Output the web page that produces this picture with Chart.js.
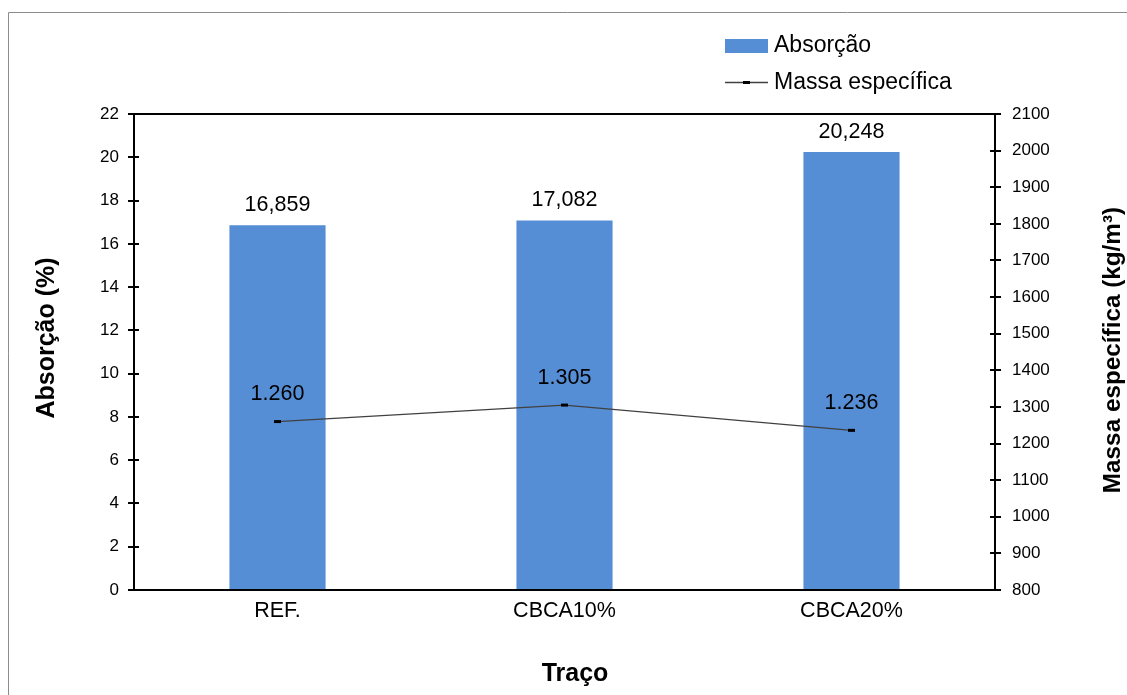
<!DOCTYPE html>
<html>
<head>
<meta charset="utf-8">
<script src="https://cdn.jsdelivr.net/npm/chart.js@4/dist/chart.umd.min.js"></script>
<style>
  html, body { margin: 0; padding: 0; background: #fff; }
  #wrap { width: 1127px; height: 695px; position: relative; }
</style>
</head>
<body>
<div id="wrap"><canvas id="c" width="1127" height="695"></canvas></div>
<script>
// Traço (mix) categories and measured values
const categories = ['REF.', 'CBCA10%', 'CBCA20%'];
const absorcao = [16.859, 17.082, 20.248];          // %
const massaEspecifica = [1260, 1305, 1236];         // kg/m³
const absorcaoAxis = [0, 22, 2];                    // min, max, step
const massaAxis = [800, 2100, 100];                 // min, max, step

const FONT = "'Liberation Sans', Arial, sans-serif";
const BAR_COLOR = '#558ED5';
const LINE_COLOR = '#404040';

// pt-BR number formatting: comma decimals, period thousands
function fmtDecimal(v, d) { return v.toFixed(d).replace('.', ','); }
function fmtThousands(v) { return String(Math.round(v)).replace(/\B(?=(\d{3})+(?!\d))/g, '.'); }

const framePlugin = {
  id: 'frame',
  beforeDraw(chart) {
    const ctx = chart.ctx;
    ctx.save();
    ctx.fillStyle = '#fff';
    ctx.fillRect(0, 0, chart.width, chart.height);
    ctx.strokeStyle = '#8c8c8c';
    ctx.lineWidth = 1;
    ctx.beginPath();
    ctx.moveTo(8.5, chart.height);
    ctx.lineTo(8.5, 12.5);
    ctx.lineTo(chart.width, 12.5);
    ctx.stroke();
    ctx.restore();
  },
  afterDatasetsDraw(chart) {
    const ctx = chart.ctx;
    const a = chart.chartArea;
    ctx.save();
    ctx.strokeStyle = '#000';
    ctx.lineWidth = 2;
    ctx.beginPath();
    ctx.rect(a.left, a.top, a.right - a.left, a.bottom - a.top);
    ctx.stroke();
    // tick marks crossing the value axes
    const ys = chart.scales.y, y1 = chart.scales.y1;
    ctx.beginPath();
    ys.ticks.forEach(t => {
      const p = Math.round(ys.getPixelForValue(t.value));
      ctx.moveTo(a.left - 6, p); ctx.lineTo(a.left + 5, p);
    });
    y1.ticks.forEach(t => {
      const p = Math.round(y1.getPixelForValue(t.value));
      ctx.moveTo(a.right - 5, p); ctx.lineTo(a.right + 6, p);
    });
    ctx.stroke();

    // value labels
    ctx.fillStyle = '#000';
    ctx.textAlign = 'center';
    ctx.textBaseline = 'middle';
    ctx.font = '21.5px ' + FONT;
    chart.data.datasets.forEach((ds, i) => {
      const meta = chart.getDatasetMeta(i);
      meta.data.forEach((el, j) => {
        const v = ds.data[j];
        if (ds.type === 'bar') {
          ctx.fillText(fmtDecimal(v, 3), el.x, el.y - 20);
        } else {
          ctx.fillText(fmtThousands(v), el.x, el.y - 27);
        }
      });
    });

    // axis titles
    ctx.font = 'bold 25px ' + FONT;
    ctx.save();
    ctx.translate(47, 338);
    ctx.rotate(-Math.PI / 2);
    ctx.fillText('Absorção (%)', 0, 0);
    ctx.restore();
    ctx.fillText('Traço', 575, 674);
    ctx.font = 'bold 24.3px ' + FONT;
    ctx.save();
    ctx.translate(1113, 350);
    ctx.rotate(-Math.PI / 2);
    ctx.fillText('Massa específica (kg/m³)', 0, 0);
    ctx.restore();

    // legend
    const bar = chart.data.datasets.find(d => d.type === 'bar');
    const line = chart.data.datasets.find(d => d.type === 'line');
    ctx.fillStyle = bar.backgroundColor;
    ctx.fillRect(725, 39, 43, 14);
    ctx.strokeStyle = line.borderColor;
    ctx.lineWidth = 1.3;
    ctx.beginPath();
    ctx.moveTo(725, 82.5); ctx.lineTo(768, 82.5);
    ctx.stroke();
    ctx.fillStyle = '#000';
    ctx.fillRect(743, 81, 7, 3);
    ctx.font = '23px ' + FONT;
    ctx.textAlign = 'left';
    ctx.fillText(bar.label, 774, 46);
    ctx.fillText(line.label, 774, 83);
    ctx.restore();
  }
};

new Chart(document.getElementById('c'), {
  data: {
    labels: categories,
    datasets: [
      {
        type: 'line',
        label: 'Massa específica',
        data: massaEspecifica,
        yAxisID: 'y1',
        order: 1,
        borderColor: LINE_COLOR,
        borderWidth: 1.3,
        pointStyle: 'line',
        pointRadius: 3.5,
        pointBorderWidth: 3,
        pointBorderColor: '#000',
        pointBackgroundColor: '#000',
        tension: 0
      },
      {
        type: 'bar',
        label: 'Absorção',
        data: absorcao,
        yAxisID: 'y',
        order: 2,
        backgroundColor: BAR_COLOR,
        borderWidth: 0,
        categoryPercentage: 1,
        barPercentage: 0.335
      }
    ]
  },
  options: {
    responsive: false,
    animation: false,
    devicePixelRatio: 1,
    layout: { padding: { top: 114, left: 0, right: 0, bottom: 0 } },
    plugins: { legend: { display: false }, tooltip: { enabled: false } },
    scales: {
      x: {
        grid: { display: false, drawTicks: false },
        border: { display: false },
        ticks: { color: '#000', font: { family: FONT, size: 21.5 }, padding: 8, maxRotation: 0 },
        afterFit(s) { s.height = 105; }
      },
      y: {
        position: 'left',
        min: absorcaoAxis[0], max: absorcaoAxis[1],
        grid: { display: false, drawTicks: false },
        border: { display: false },
        ticks: { stepSize: absorcaoAxis[2], color: '#000', font: { family: FONT, size: 17 }, padding: 15,
                 callback: v => String(v) },
        afterFit(s) { s.width = 134; }
      },
      y1: {
        position: 'right',
        min: massaAxis[0], max: massaAxis[1],
        grid: { display: false, drawTicks: false },
        border: { display: false },
        ticks: { stepSize: massaAxis[2], color: '#000', font: { family: FONT, size: 17 }, padding: 17,
                 callback: v => String(v) },
        afterFit(s) { s.width = 132; }
      }
    }
  },
  plugins: [framePlugin]
});
</script>
</body>
</html>
